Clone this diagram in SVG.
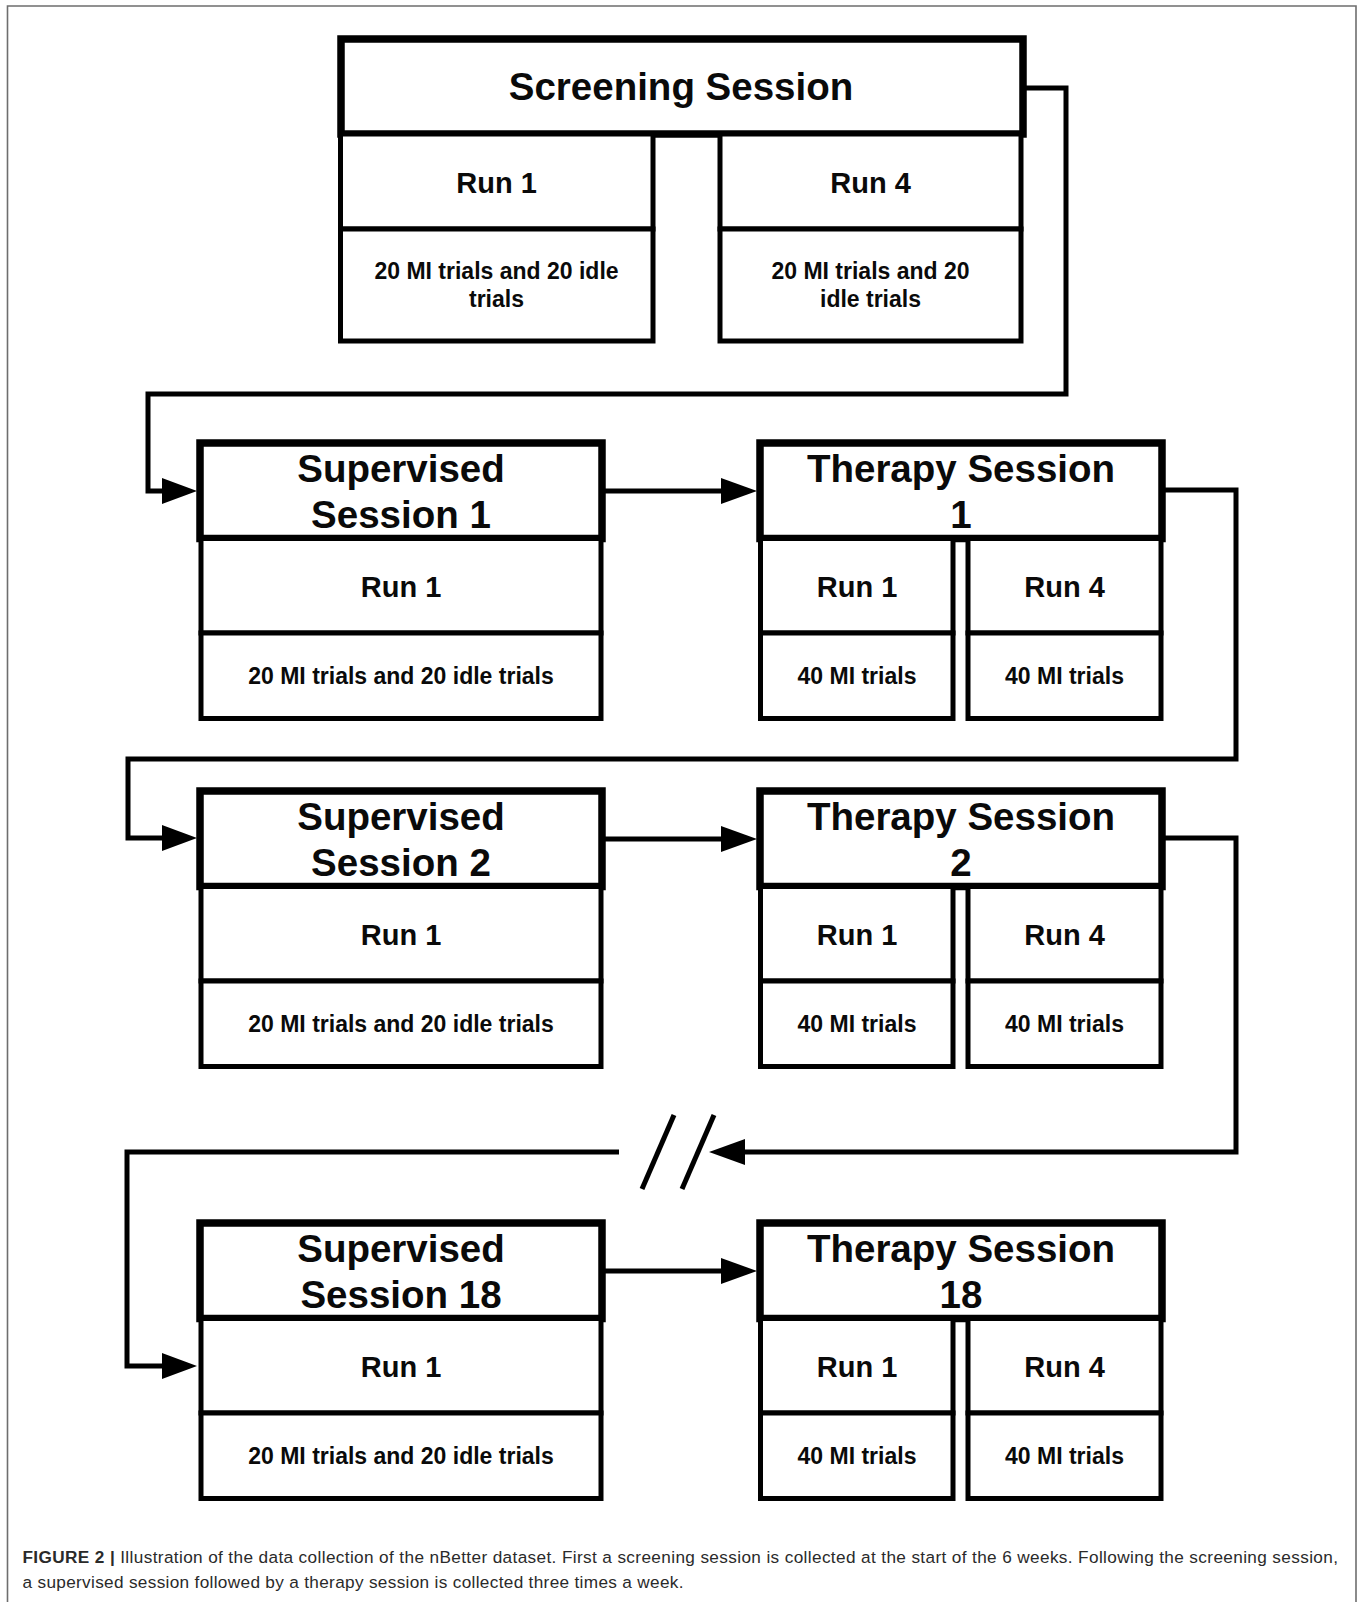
<svg xmlns="http://www.w3.org/2000/svg" width="1363" height="1602" viewBox="0 0 1363 1602">
<style>
.hd{fill:#fff;stroke:#000;stroke-width:7.5}
.cl{fill:#fff;stroke:#000;stroke-width:5}
.t1{font-family:"Liberation Sans",Arial,sans-serif;font-weight:bold;font-size:38.5px;fill:#0a0a0a;text-anchor:middle}
.t2{font-family:"Liberation Sans",Arial,sans-serif;font-weight:bold;font-size:29px;fill:#0a0a0a;text-anchor:middle}
.t3{font-family:"Liberation Sans",Arial,sans-serif;font-weight:bold;font-size:23px;fill:#0a0a0a;text-anchor:middle}
.cn{fill:none;stroke:#000;stroke-width:5;stroke-linejoin:miter}
.ah{fill:#000}
.cap{font-family:"Liberation Sans",Arial,sans-serif;font-size:17.2px;fill:#2a2a2a}
</style>
<rect width="1363" height="1602" fill="#fff"/>
<path d="M7.5,1602 V6 H1356 V1602" fill="none" stroke="#6e6e6e" stroke-width="1.6"/>

<g id="screening">
<rect class="hd" x="341" y="39" width="682" height="95"/>
<text class="t1" x="681" y="100">Screening Session</text>
<rect class="cl" x="340.5" y="134" width="312.5" height="95"/>
<rect class="cl" x="340.5" y="229" width="312.5" height="112"/>
<text class="t2" x="496.5" y="192.5">Run 1</text>
<text class="t3" x="496.5" y="279">20 MI trials and 20 idle</text>
<text class="t3" x="496.5" y="307">trials</text>
<rect class="cl" x="720" y="134" width="301" height="95"/>
<rect class="cl" x="720" y="229" width="301" height="112"/>
<text class="t2" x="870.5" y="192.5">Run 4</text>
<text class="t3" x="870.5" y="279">20 MI trials and 20</text>
<text class="t3" x="870.5" y="307">idle trials</text>
</g>

<g id="supervised1">
<rect class="hd" x="200" y="443" width="402" height="95.5"/>
<text class="t1" x="401" y="481.7">Supervised</text>
<text class="t1" x="401" y="528.3">Session 1</text>
<rect class="cl" x="201" y="538.5" width="400" height="94.5"/>
<rect class="cl" x="201" y="633" width="400" height="85.5"/>
<text class="t2" x="401" y="596.5">Run 1</text>
<text class="t3" x="401" y="683.5">20 MI trials and 20 idle trials</text>
</g>

<g id="therapy1">
<rect class="hd" x="760" y="443" width="402" height="95.5"/>
<text class="t1" x="961" y="481.7">Therapy Session</text>
<text class="t1" x="961" y="528.3">1</text>
<rect class="cl" x="760.5" y="538.5" width="192.5" height="94.5"/>
<rect class="cl" x="760.5" y="633" width="192.5" height="85.5"/>
<text class="t2" x="857" y="596.5">Run 1</text>
<text class="t3" x="857" y="683.5">40 MI trials</text>
<rect class="cl" x="968" y="538.5" width="193" height="94.5"/>
<rect class="cl" x="968" y="633" width="193" height="85.5"/>
<text class="t2" x="1064.5" y="596.5">Run 4</text>
<text class="t3" x="1064.5" y="683.5">40 MI trials</text>
</g>

<g id="supervised2" transform="translate(0,348)">
<rect class="hd" x="200" y="443" width="402" height="95.5"/>
<text class="t1" x="401" y="481.7">Supervised</text>
<text class="t1" x="401" y="528.3">Session 2</text>
<rect class="cl" x="201" y="538.5" width="400" height="94.5"/>
<rect class="cl" x="201" y="633" width="400" height="85.5"/>
<text class="t2" x="401" y="596.5">Run 1</text>
<text class="t3" x="401" y="683.5">20 MI trials and 20 idle trials</text>
</g>

<g id="therapy2" transform="translate(0,348)">
<rect class="hd" x="760" y="443" width="402" height="95.5"/>
<text class="t1" x="961" y="481.7">Therapy Session</text>
<text class="t1" x="961" y="528.3">2</text>
<rect class="cl" x="760.5" y="538.5" width="192.5" height="94.5"/>
<rect class="cl" x="760.5" y="633" width="192.5" height="85.5"/>
<text class="t2" x="857" y="596.5">Run 1</text>
<text class="t3" x="857" y="683.5">40 MI trials</text>
<rect class="cl" x="968" y="538.5" width="193" height="94.5"/>
<rect class="cl" x="968" y="633" width="193" height="85.5"/>
<text class="t2" x="1064.5" y="596.5">Run 4</text>
<text class="t3" x="1064.5" y="683.5">40 MI trials</text>
</g>

<g id="supervised18" transform="translate(0,780)">
<rect class="hd" x="200" y="443" width="402" height="95.5"/>
<text class="t1" x="401" y="481.7">Supervised</text>
<text class="t1" x="401" y="528.3">Session 18</text>
<rect class="cl" x="201" y="538.5" width="400" height="94.5"/>
<rect class="cl" x="201" y="633" width="400" height="85.5"/>
<text class="t2" x="401" y="596.5">Run 1</text>
<text class="t3" x="401" y="683.5">20 MI trials and 20 idle trials</text>
</g>

<g id="therapy18" transform="translate(0,780)">
<rect class="hd" x="760" y="443" width="402" height="95.5"/>
<text class="t1" x="961" y="481.7">Therapy Session</text>
<text class="t1" x="961" y="528.3">18</text>
<rect class="cl" x="760.5" y="538.5" width="192.5" height="94.5"/>
<rect class="cl" x="760.5" y="633" width="192.5" height="85.5"/>
<text class="t2" x="857" y="596.5">Run 1</text>
<text class="t3" x="857" y="683.5">40 MI trials</text>
<rect class="cl" x="968" y="538.5" width="193" height="94.5"/>
<rect class="cl" x="968" y="633" width="193" height="85.5"/>
<text class="t2" x="1064.5" y="596.5">Run 4</text>
<text class="t3" x="1064.5" y="683.5">40 MI trials</text>
</g>

<g id="connectors">
<path class="cn" d="M1026,88 H1066 V394 H148 V491 H165"/>
<polygon class="ah" points="162,478 197,491 162,504"/>
<path class="cn" d="M605,491 H724"/>
<polygon class="ah" points="721,478 757,491 721,504"/>
<path class="cn" d="M1165,490 H1236 V759 H128 V838 H165"/>
<polygon class="ah" points="162,825 197,838 162,851"/>
<path class="cn" d="M605,839 H724"/>
<polygon class="ah" points="721,826 757,839 721,852"/>
<path class="cn" d="M1165,838 H1236 V1152 H742"/>
<polygon class="ah" points="745,1139 709,1152 745,1165"/>
<line class="cn" x1="674" y1="1115" x2="642" y2="1189"/>
<line class="cn" x1="714" y1="1115" x2="682" y2="1189"/>
<path class="cn" d="M619,1152 H127 V1366 H165"/>
<polygon class="ah" points="162,1353 197,1366 162,1379"/>
<path class="cn" d="M605,1271 H724"/>
<polygon class="ah" points="721,1258 757,1271 721,1284"/>
</g>

<g id="caption">
<text class="cap" x="22.5" y="1563" textLength="1315.5" lengthAdjust="spacing"><tspan font-weight="bold">FIGURE 2 |</tspan> Illustration of the data collection of the nBetter dataset. First a screening session is collected at the start of the 6 weeks. Following the screening session,</text>
<text class="cap" x="22.5" y="1588" textLength="661" lengthAdjust="spacing">a supervised session followed by a therapy session is collected three times a week.</text>
</g>
</svg>
